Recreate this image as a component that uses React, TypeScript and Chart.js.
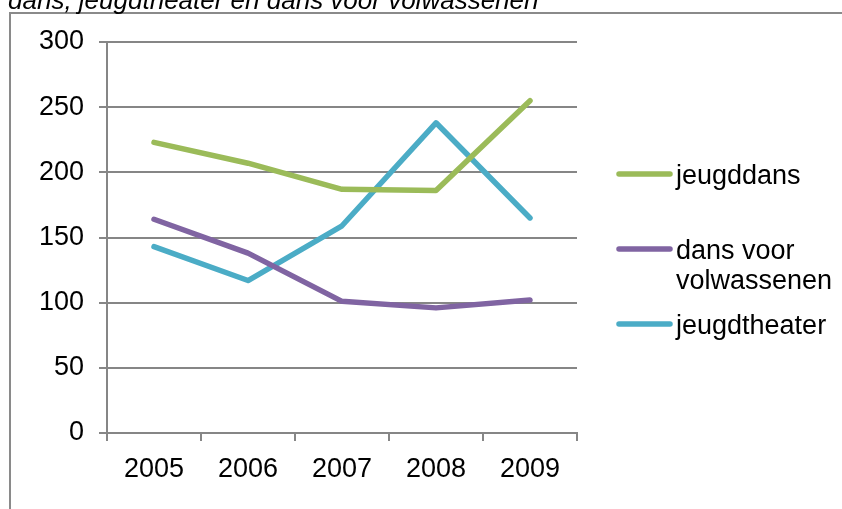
import React, { useEffect, useRef } from "react";
import { Chart, registerables } from "chart.js";

Chart.register(...registerables);

const years = ["2005", "2006", "2007", "2008", "2009"];
const jeugddans = [223, 207, 187, 186, 255];
const dansVoorVolwassenen = [164, 138, 101, 96, 102];
const jeugdtheater = [143, 117, 159, 238, 165];
const seriesLabels = ["jeugddans", "dans voor volwassenen", "jeugdtheater"];
const seriesColors = ["#9BBB59", "#8064A2", "#4BACC6"];
const titleText = "dans, jeugdtheater en dans voor volwassenen";

const FONT_FAMILY = "'Liberation Sans', Arial, Helvetica, sans-serif";
const GRID = "#868686";

const framePlugin = {
  id: "frameAndTitle",
  beforeDraw(chart: any) {
    const ctx = chart.ctx;
    ctx.save();
    ctx.fillStyle = "#ffffff";
    ctx.fillRect(0, 0, chart.width, chart.height);
    ctx.strokeStyle = "#8a8a8a";
    ctx.lineWidth = 2;
    ctx.beginPath();
    ctx.moveTo(10, chart.height);
    ctx.lineTo(10, 13);
    ctx.lineTo(chart.width, 13);
    ctx.stroke();
    ctx.fillStyle = "#000";
    ctx.font = `italic 26px ${FONT_FAMILY}`;
    ctx.textBaseline = "alphabetic";
    ctx.textAlign = "left";
    ctx.fillText(titleText, 8, 8.5);
    ctx.restore();
  },
};

const legendPlugin = {
  id: "sideLegend",
  afterDraw(chart: any) {
    const ctx = chart.ctx;
    ctx.save();
    ctx.font = `27px ${FONT_FAMILY}`;
    ctx.textAlign = "left";
    ctx.textBaseline = "middle";
    chart.data.datasets.forEach((ds: any, i: number) => {
      const y = 174 + 75 * i;
      ctx.strokeStyle = ds.borderColor;
      ctx.lineWidth = 5.5;
      ctx.lineCap = "round";
      ctx.beginPath();
      ctx.moveTo(619, y);
      ctx.lineTo(670, y);
      ctx.stroke();
      const words = String(ds.label).split(" ");
      const lines: string[] = [];
      let cur = "";
      words.forEach((w) => {
        const test = cur ? cur + " " + w : w;
        if (ctx.measureText(test).width > 155 && cur) {
          lines.push(cur);
          cur = w;
        } else cur = test;
      });
      if (cur) lines.push(cur);
      ctx.fillStyle = "#000";
      lines.forEach((ln, k) => ctx.fillText(ln, 676, y + 2.5 + k * 30));
    });
    ctx.restore();
  },
};

export default function App() {
  const ref = useRef<HTMLCanvasElement>(null);
  useEffect(() => {
    if (!ref.current) return;
    const font = { family: FONT_FAMILY, size: 27 };
    const chart = new Chart(ref.current, {
      type: "line",
      data: {
        labels: years,
        datasets: [jeugddans, dansVoorVolwassenen, jeugdtheater].map((d, i) => ({
          label: seriesLabels[i],
          data: d,
          borderColor: seriesColors[i],
          backgroundColor: seriesColors[i],
          borderWidth: 5.5,
          pointRadius: 0,
          pointHoverRadius: 0,
          tension: 0,
          borderCapStyle: "round",
          borderJoinStyle: "round",
          fill: false,
        })),
      },
      options: {
        animation: false,
        responsive: false,
        maintainAspectRatio: false,
        layout: { padding: { left: 0, top: 42, right: 265, bottom: 26 } },
        plugins: {
          legend: { display: false },
          title: { display: false },
          tooltip: { enabled: false },
        },
        scales: {
          x: {
            offset: true,
            grid: {
              offset: true,
              drawOnChartArea: false,
              drawTicks: true,
              tickLength: 8,
              color: GRID,
              lineWidth: 2,
            },
            border: { display: true, color: GRID, width: 2 },
            ticks: { font, color: "#000", padding: 12, maxRotation: 0 },
            afterFit(s: any) {
              s.height = 50;
            },
          },
          y: {
            min: 0,
            max: 300,
            ticks: { stepSize: 50, font, color: "#000", padding: 15 },
            grid: { color: GRID, lineWidth: 2, tickLength: 8, drawTicks: true },
            border: { display: true, color: GRID, width: 2 },
            afterFit(s: any) {
              s.width = 107;
            },
          },
        },
      },
      plugins: [framePlugin, legendPlugin],
    } as any);
    return () => chart.destroy();
  }, []);
  return (
    <div style={{ position: "absolute", left: 0, top: 0, width: 842, height: 509 }}>
      <canvas ref={ref} width={842} height={509} style={{ display: "block" }} />
    </div>
  );
}
